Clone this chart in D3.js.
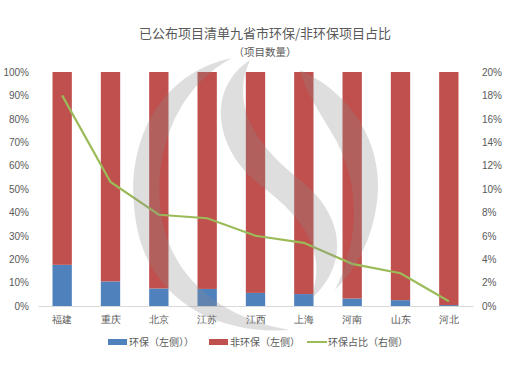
<!DOCTYPE html>
<html>
<head>
<meta charset="utf-8">
<script src="https://cdn.jsdelivr.net/npm/d3@7"></script>
<style>
  body { margin: 0; background: #fff; }
  svg { display: block; font-family: "Noto Sans CJK SC", "Noto Sans", sans-serif; }
  .tick text { fill: #595959; font-size: 10px; }
</style>
</head>
<body>
<div id="chart"></div>
<script>
// Provinces, left to right
const provinces = ["福建", "重庆", "北京", "江苏", "江西", "上海", "河南", "山东", "河北"];
// Share of env projects, stacked bars (left axis, %)
const envShare = [17.6, 10.5, 7.5, 7.3, 5.6, 5.1, 3.2, 2.5, 0.4];
const nonEnvShare = [82.4, 89.5, 92.5, 92.7, 94.4, 94.9, 96.8, 97.5, 99.6];
// Env ratio line (right axis, %)
const envRatio = [18.0, 10.6, 7.8, 7.5, 6.0, 5.4, 3.6, 2.8, 0.4];

const leftTicks = [0, 10, 20, 30, 40, 50, 60, 70, 80, 90, 100];
const rightTicks = [0, 2, 4, 6, 8, 10, 12, 14, 16, 18, 20];

const width = 520, height = 370;
const pad = { top: 72, right: 47, bottom: 64, left: 38 };

const COLORS = { env: "#4f81bd", nonEnv: "#c0504d", line: "#9bbb59" };

const svg = d3.select("#chart").append("svg")
  .attr("width", width).attr("height", height);

const innerW = width - pad.left - pad.right;
const innerH = height - pad.top - pad.bottom;

const x = d3.scaleBand().domain(provinces).range([pad.left, pad.left + innerW]).paddingInner(0.6).paddingOuter(0.3);
const yL = d3.scaleLinear().domain([0, 100]).range([pad.top + innerH, pad.top]);
const yR = d3.scaleLinear().domain([0, 20]).range([pad.top + innerH, pad.top]);

// Title
svg.append("text").attr("x", 265).attr("y", 38).attr("text-anchor", "middle")
  .attr("font-size", 13).attr("fill", "#595959")
  .text("已公布项目清单九省市环保/非环保项目占比");
svg.append("text").attr("x", 265).attr("y", 56).attr("text-anchor", "middle")
  .attr("font-size", 10.5).attr("fill", "#595959")
  .text("（项目数量）");

// Stacked bars
const rows = provinces.map((p, i) => ({ p, env: envShare[i], non: nonEnvShare[i] }));
const stack = d3.stack().keys(["env", "non"])(rows);
svg.append("g").selectAll("g").data(stack).join("g")
  .attr("fill", (d) => d.key === "env" ? COLORS.env : COLORS.nonEnv)
  .selectAll("rect").data((d) => d).join("rect")
  .attr("x", (d) => x(d.data.p))
  .attr("width", x.bandwidth())
  .attr("y", (d) => yL(d[1]))
  .attr("height", (d) => yL(d[0]) - yL(d[1]));

// Axes
const fmt = (d) => d + "%";
svg.append("g").attr("transform", `translate(${pad.left - 6},0)`)
  .call(d3.axisLeft(yL).tickValues(leftTicks).tickFormat(fmt).tickSize(0))
  .call((g) => g.select(".domain").remove());
svg.append("g").attr("transform", `translate(${pad.left + innerW + 6},0)`)
  .call(d3.axisRight(yR).tickValues(rightTicks).tickFormat(fmt).tickSize(0))
  .call((g) => g.select(".domain").remove());
svg.append("g").attr("transform", `translate(0,${pad.top + innerH})`)
  .call(d3.axisBottom(x).tickSize(0).tickPadding(10))
  .call((g) => g.select(".domain").attr("stroke", "#d9d9d9"));

// Ratio line
svg.append("path")
  .datum(envRatio)
  .attr("fill", "none")
  .attr("stroke", COLORS.line)
  .attr("stroke-width", 2.2)
  .attr("d", d3.line().x((d, i) => x(provinces[i]) + x.bandwidth() / 2).y((d) => yR(d)));

// Watermark swirl (decorative)
const wm = svg.append("g").attr("fill", "#8c8c8c").attr("opacity", 0.28);
wm.append("path").attr("d",
  "M232,58 C150,75 118,160 140,240 C158,300 215,335 290,330 C230,320 175,285 162,220 C150,150 180,85 232,58 Z");
wm.append("path").attr("d",
  "M250,60 C205,90 215,150 260,185 C300,215 330,250 310,300 C350,265 345,215 300,180 C255,145 230,105 250,60 Z");
wm.append("path").attr("d",
  "M300,70 C345,90 380,135 378,190 C376,230 360,265 335,290 C360,240 362,180 330,130 C318,110 305,90 300,70 Z");

// Legend
const legend = svg.append("g").attr("font-size", 10).attr("fill", "#595959");
const items = [
  { label: "环保（左侧））", color: COLORS.env, x: 108, type: "rect" },
  { label: "非环保（左侧）", color: COLORS.nonEnv, x: 209, type: "rect" },
  { label: "环保占比（右侧）", color: COLORS.line, x: 307, type: "line" },
];
items.forEach((it) => {
  if (it.type === "rect") {
    legend.append("rect").attr("x", it.x).attr("y", 339).attr("width", 19).attr("height", 6).attr("fill", it.color);
  } else {
    legend.append("line").attr("x1", it.x).attr("x2", it.x + 20).attr("y1", 342).attr("y2", 342)
      .attr("stroke", it.color).attr("stroke-width", 2);
  }
  legend.append("text").attr("x", it.x + 21).attr("y", 346).text(it.label);
});
</script>
</body>
</html>
